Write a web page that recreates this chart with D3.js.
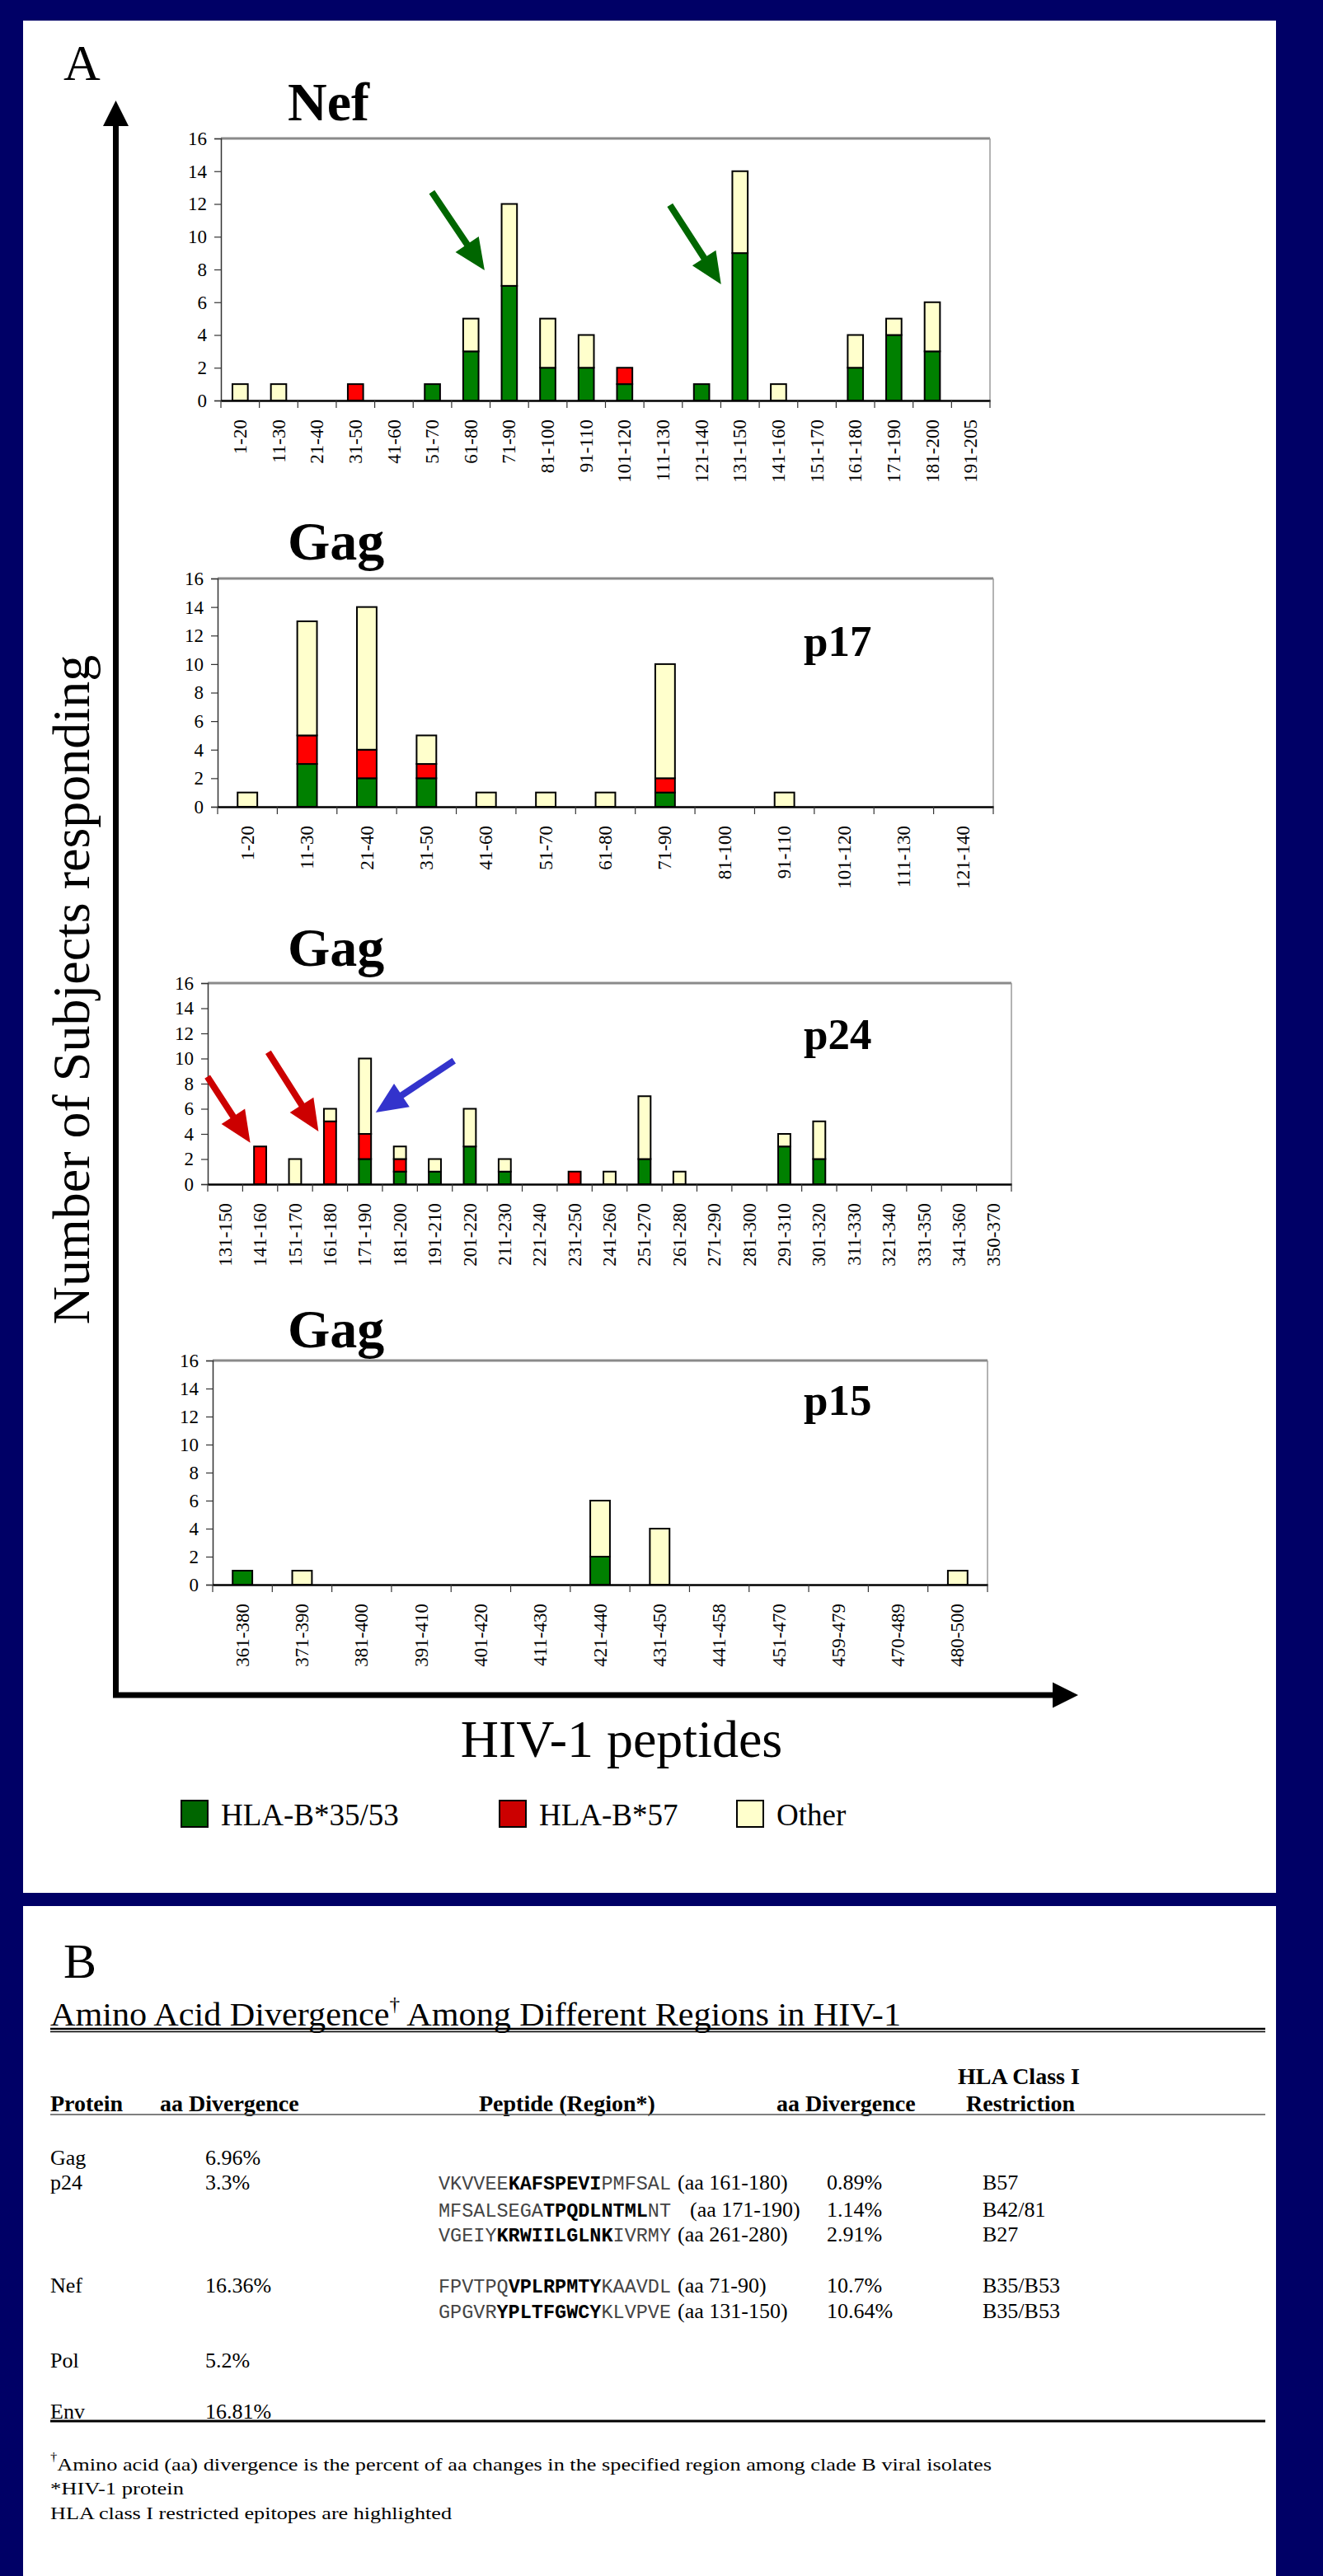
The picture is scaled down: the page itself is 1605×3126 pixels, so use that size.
<!DOCTYPE html>
<html>
<head>
<meta charset="utf-8">
<script src="https://cdn.jsdelivr.net/npm/d3@7"></script>
<style>
  html, body { margin: 0; padding: 0; background: #000066; }
  svg { display: block; }
</style>
</head>
<body>
<svg id="fig" width="1605" height="3126"></svg>
<script>
// ---------- Data: number of subjects responding per overlapping peptide ----------
const yTicks = [0, 2, 4, 6, 8, 10, 12, 14, 16];

const nefCats = ["1-20","11-30","21-40","31-50","41-60","51-70","61-80","71-90","81-100","91-110",
  "101-120","111-130","121-140","131-150","141-160","151-170","161-180","171-190","181-200","191-205"];
const nefB3553 = [0,0,0,0,0,1,3,7,2,2,1,0,1,9,0,0,2,4,3,0];
const nefB57   = [0,0,0,1,0,0,0,0,0,0,1,0,0,0,0,0,0,0,0,0];
const nefOther = [1,1,0,0,0,0,2,5,3,2,0,0,0,5,1,0,2,1,3,0];

const p17Cats = ["1-20","11-30","21-40","31-50","41-60","51-70","61-80","71-90","81-100","91-110",
  "101-120","111-130","121-140"];
const p17B3553 = [0,3,2,2,0,0,0,1,0,0,0,0,0];
const p17B57   = [0,2,2,1,0,0,0,1,0,0,0,0,0];
const p17Other = [1,8,10,2,1,1,1,8,0,1,0,0,0];

const p24Cats = ["131-150","141-160","151-170","161-180","171-190","181-200","191-210","201-220",
  "211-230","221-240","231-250","241-260","251-270","261-280","271-290","281-300","291-310",
  "301-320","311-330","321-340","331-350","341-360","350-370"];
const p24B3553 = [0,0,0,0,2,1,1,3,1,0,0,0,2,0,0,0,3,2,0,0,0,0,0];
const p24B57   = [0,3,0,5,2,1,0,0,0,0,1,0,0,0,0,0,0,0,0,0,0,0,0];
const p24Other = [0,0,2,1,6,1,1,3,1,0,0,1,5,1,0,0,1,3,0,0,0,0,0];

const p15Cats = ["361-380","371-390","381-400","391-410","401-420","411-430","421-440","431-450",
  "441-458","451-470","459-479","470-489","480-500"];
const p15B3553 = [1,0,0,0,0,0,2,0,0,0,0,0,0];
const p15B57   = [0,0,0,0,0,0,0,0,0,0,0,0,0];
const p15Other = [0,1,0,0,0,0,4,4,0,0,0,0,1];

const legendLabels = ["HLA-B*35/53", "HLA-B*57", "Other"];

// Arrows marking peptides that carry HLA-restricted epitopes
const nefArrows = [
  { cat: "71-90",   value: 7.95, off: -30, vx: -64, vy: -95, color: "#006600" },
  { cat: "131-150", value: 7.1,  off: -23, vx: -62, vy: -96, color: "#006600" }
];
const p24Arrows = [
  { cat: "141-160", value: 3.3, off: -12, vx: -52, vy: -80, color: "#CC0000" },
  { cat: "161-180", value: 4.2, off: -14, vx: -61, vy: -96, color: "#CC0000" },
  { cat: "171-190", value: 5.7, off: 13,  vx: 95,  vy: -63, color: "#3333CC" }
];

// ---------- Table B ----------
const tableHeaders = ["Protein", "aa Divergence", "Peptide (Region*)", "aa Divergence", "Restriction"];
const proteins     = ["Gag", "p24", "Nef", "Pol", "Env"];
const proteinDiv   = ["6.96%", "3.3%", "16.36%", "5.2%", "16.81%"];
// peptide: [leading, epitope, trailing]
const peptides = [
  ["VKVVEE", "KAFSPEVI", "PMFSAL"],
  ["MFSALSEGA", "TPQDLNTML", "NT"],
  ["VGEIY", "KRWIILGLNK", "IVRMY"],
  ["FPVTPQ", "VPLRPMTY", "KAAVDL"],
  ["GPGVR", "YPLTFGWCY", "KLVPVE"]
];
const peptideRegions = ["(aa 161-180)", "(aa 171-190)", "(aa 261-280)", "(aa 71-90)", "(aa 131-150)"];
const peptideDiv     = ["0.89%", "1.14%", "2.91%", "10.7%", "10.64%"];
const restriction    = ["B57", "B42/81", "B27", "B35/B53", "B35/B53"];
const footnotes = [
  "Amino acid (aa) divergence is the percent of aa changes in the specified region among clade B viral isolates",
  "*HIV-1 protein",
  "HLA class I restricted epitopes are highlighted"
];

// ---------- Drawing ----------
const SERIF = "'Liberation Serif','Times New Roman',Times,serif";
const MONO  = "'Liberation Mono','Courier New',Courier,monospace";
const svg = d3.select("#fig");
const keys = ["b3553", "b57", "other"];
const fills = { b3553: "#008000", b57: "#FF0000", other: "#FFFFCC" };

svg.append("rect").attr("width", 1605).attr("height", 3126).attr("fill", "#000066");
svg.append("rect").attr("x", 28).attr("y", 25).attr("width", 1520).attr("height", 2272).attr("fill", "#fff");
svg.append("rect").attr("x", 28).attr("y", 2313).attr("width", 1520).attr("height", 813).attr("fill", "#fff");

svg.append("text").attr("x", 77).attr("y", 97).attr("font-family", SERIF).attr("font-size", 62).text("A");

function arrowPath(x0, y0, x1, y1, sw, hl, hw) {
  const dx = x1 - x0, dy = y1 - y0, L = Math.hypot(dx, dy);
  const ux = dx / L, uy = dy / L, px = -uy, py = ux;
  const bx = x1 - ux * hl, by = y1 - uy * hl;
  const pts = [
    [x0 + px * sw / 2, y0 + py * sw / 2],
    [bx + px * sw / 2, by + py * sw / 2],
    [bx + px * hw / 2, by + py * hw / 2],
    [x1, y1],
    [bx - px * hw / 2, by - py * hw / 2],
    [bx - px * sw / 2, by - py * sw / 2],
    [x0 - px * sw / 2, y0 - py * sw / 2]
  ];
  return d3.line()(pts) + "Z";
}

const panels = [
  { title: "Nef", titleY: 146, sub: null, left: 268, right: 1201, top: 168, bottom: 486, frac: 0.40,
    cats: nefCats, b3553: nefB3553, b57: nefB57, other: nefOther, arrows: nefArrows },
  { title: "Gag", titleY: 679, sub: "p17", subY: 796, left: 264, right: 1205, top: 702, bottom: 979, frac: 0.33,
    cats: p17Cats, b3553: p17B3553, b57: p17B57, other: p17Other, arrows: [] },
  { title: "Gag", titleY: 1172, sub: "p24", subY: 1273, left: 252, right: 1227, top: 1193, bottom: 1437, frac: 0.35,
    cats: p24Cats, b3553: p24B3553, b57: p24B57, other: p24Other, arrows: p24Arrows },
  { title: "Gag", titleY: 1635, sub: "p15", subY: 1717, left: 258, right: 1198, top: 1651, bottom: 1923, frac: 0.33,
    cats: p15Cats, b3553: p15B3553, b57: p15B57, other: p15Other, arrows: [] }
];

panels.forEach(p => {
  const g = svg.append("g");
  const x = d3.scaleBand().domain(p.cats).range([p.left, p.right]);
  const y = d3.scaleLinear().domain([0, 16]).range([p.bottom, p.top]);

  g.append("text").attr("x", 349).attr("y", p.titleY).attr("font-family", SERIF)
    .attr("font-weight", "bold").attr("font-size", 66).text(p.title);

  // plot frame
  g.append("line").attr("x1", p.left).attr("x2", p.right).attr("y1", p.top).attr("y2", p.top)
    .attr("stroke", "#8a8a8a").attr("stroke-width", 3);
  g.append("line").attr("x1", p.right).attr("x2", p.right).attr("y1", p.top).attr("y2", p.bottom)
    .attr("stroke", "#9a9a9a").attr("stroke-width", 1.5);

  if (p.sub) {
    g.append("text").attr("x", 975).attr("y", p.subY).attr("font-family", SERIF)
      .attr("font-weight", "bold").attr("font-size", 53).text(p.sub);
  }

  // y axis
  const ya = g.append("g").attr("transform", `translate(${p.left},0)`)
    .call(d3.axisLeft(y).tickValues(yTicks).tickSize(8).tickPadding(9).tickFormat(d3.format("d")));
  ya.select(".domain").attr("stroke", "#333").attr("stroke-width", 1.5);
  ya.selectAll(".tick line").attr("stroke", "#333").attr("stroke-width", 1.2);
  ya.selectAll("text").attr("font-family", SERIF).attr("font-size", 23).attr("fill", "#000");

  // stacked bars
  const rows = p.cats.map((c, i) => ({ cat: c, b3553: p.b3553[i], b57: p.b57[i], other: p.other[i] }));
  const stacked = d3.stack().keys(keys)(rows);
  const bw = x.bandwidth() * p.frac;
  stacked.forEach(s => {
    g.append("g").selectAll("rect").data(s.filter(d => d[1] > d[0])).join("rect")
      .attr("x", d => x(d.data.cat) + (x.bandwidth() - bw) / 2)
      .attr("y", d => y(d[1]))
      .attr("width", bw)
      .attr("height", d => y(d[0]) - y(d[1]))
      .attr("fill", fills[s.key])
      .attr("stroke", "#000").attr("stroke-width", 2);
  });

  // x axis with boundary ticks and rotated category labels
  const xa = g.append("g").attr("transform", `translate(0,${p.bottom})`)
    .call(d3.axisBottom(x).tickSize(0));
  xa.select(".domain").attr("stroke", "#000").attr("stroke-width", 2.5);
  xa.selectAll("text")
    .attr("transform", "rotate(-90)")
    .attr("x", -23).attr("y", 0).attr("dy", "0.33em")
    .attr("text-anchor", "end")
    .attr("font-family", SERIF).attr("font-size", 23).attr("fill", "#000");
  const bounds = d3.range(p.cats.length + 1).map(i => p.left + i * x.step());
  g.append("g").selectAll("line").data(bounds).join("line")
    .attr("x1", d => d).attr("x2", d => d).attr("y1", p.bottom).attr("y2", p.bottom + 9)
    .attr("stroke", "#333").attr("stroke-width", 1.2);

  // annotation arrows
  p.arrows.forEach(a => {
    const tx = x(a.cat) + x.bandwidth() / 2 + a.off;
    const ty = y(a.value);
    g.append("path").attr("d", arrowPath(tx + a.vx, ty + a.vy, tx, ty, 8, 38, 34)).attr("fill", a.color);
  });
});

// big axis arrows
svg.append("path").attr("d", arrowPath(140.5, 2060, 140.5, 122, 7, 31, 31)).attr("fill", "#000");
svg.append("path").attr("d", arrowPath(137, 2057, 1308, 2057, 7, 31, 31)).attr("fill", "#000");

svg.append("text")
  .attr("transform", "translate(108,1201) rotate(-90)")
  .attr("text-anchor", "middle").attr("font-family", SERIF).attr("font-size", 64)
  .text("Number of Subjects responding");
svg.append("text").attr("x", 754).attr("y", 2132).attr("text-anchor", "middle")
  .attr("font-family", SERIF).attr("font-size", 64).text("HIV-1 peptides");

// legend
const legendFill = ["#006600", "#CC0000", "#FFFFCC"];
const legendX = [220, 606, 894];
legendLabels.forEach((lab, i) => {
  svg.append("rect").attr("x", legendX[i]).attr("y", 2185).attr("width", 32).attr("height", 32)
    .attr("fill", legendFill[i]).attr("stroke", "#000").attr("stroke-width", 2);
  svg.append("text").attr("x", legendX[i] + 48).attr("y", 2215).attr("font-family", SERIF)
    .attr("font-size", 37).text(lab);
});

// ---------- Panel B: divergence table ----------
const B = svg.append("g").attr("font-family", SERIF).attr("fill", "#000");
B.append("text").attr("x", 77).attr("y", 2400).attr("font-size", 60).text("B");

const title = B.append("text").attr("x", 61).attr("y", 2458).attr("font-size", 40)
  .attr("textLength", 1032).attr("lengthAdjust", "spacingAndGlyphs");
title.append("tspan").text("Amino Acid Divergence");
title.append("tspan").attr("font-size", 24).attr("dy", -18).text("\u2020");
title.append("tspan").attr("dy", 18).text(" Among Different Regions in HIV-1");

B.append("line").attr("x1", 61).attr("x2", 1535).attr("y1", 2462).attr("y2", 2462).attr("stroke", "#000").attr("stroke-width", 2.5);
B.append("line").attr("x1", 61).attr("x2", 1535).attr("y1", 2465.5).attr("y2", 2465.5).attr("stroke", "#000").attr("stroke-width", 1.5);

const hx = [61, 194, 581, 942, 1172];
B.append("text").attr("x", 1162).attr("y", 2529).attr("font-size", 28).attr("font-weight", "bold").text("HLA Class I");
tableHeaders.forEach((h, i) => {
  B.append("text").attr("x", hx[i]).attr("y", 2562).attr("font-size", 28).attr("font-weight", "bold").text(h);
});
B.append("line").attr("x1", 61).attr("x2", 1535).attr("y1", 2566).attr("y2", 2566).attr("stroke", "#555").attr("stroke-width", 1.5);

const protY = [2627, 2657, 2782, 2873, 2935];
proteins.forEach((p, i) => {
  B.append("text").attr("x", 61).attr("y", protY[i]).attr("font-size", 26).text(p);
  B.append("text").attr("x", 249).attr("y", protY[i]).attr("font-size", 26).text(proteinDiv[i]);
});

const pepY = [2657, 2690, 2720, 2782, 2813];
const regionX = [822, 837, 822, 822, 822];
peptides.forEach((pp, i) => {
  const t = B.append("text").attr("x", 532).attr("y", pepY[i]).attr("font-family", MONO).attr("font-size", 23.5);
  t.append("tspan").attr("fill", "#444").text(pp[0]);
  t.append("tspan").attr("font-weight", "bold").text(pp[1]);
  t.append("tspan").attr("fill", "#444").text(pp[2]);
  B.append("text").attr("x", regionX[i]).attr("y", pepY[i]).attr("font-size", 26).text(peptideRegions[i]);
  B.append("text").attr("x", 1003).attr("y", pepY[i]).attr("font-size", 26).text(peptideDiv[i]);
  B.append("text").attr("x", 1192).attr("y", pepY[i]).attr("font-size", 26).text(restriction[i]);
});

B.append("line").attr("x1", 61).attr("x2", 1535).attr("y1", 2938).attr("y2", 2938).attr("stroke", "#000").attr("stroke-width", 3);

const fnY = [2998, 3027, 3057];
const fnLen = [1142, 162, 487];
footnotes.forEach((f, i) => {
  const t = B.append("text").attr("x", 61).attr("y", fnY[i]).attr("font-size", 22)
    .attr("textLength", fnLen[i]).attr("lengthAdjust", "spacingAndGlyphs");
  if (i === 0) t.append("tspan").attr("font-size", 14).attr("dy", -12).text("\u2020");
  t.append("tspan").attr("dy", i === 0 ? 12 : 0).text(f);
});
</script>
</body>
</html>
